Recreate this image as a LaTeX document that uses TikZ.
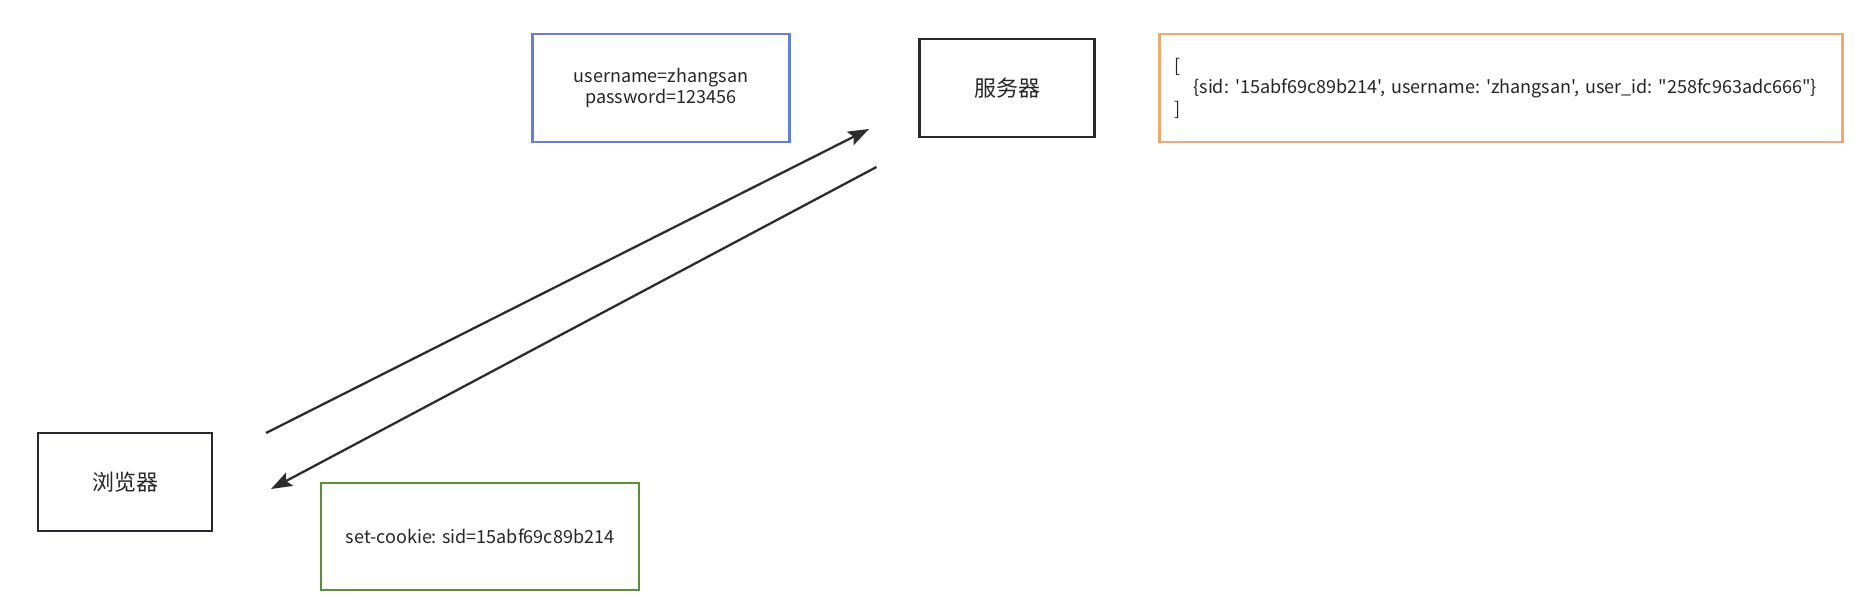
\documentclass[tikz,border=0pt]{standalone}
\usepackage{fontspec}
\newfontfamily\mainf{Noto Sans CJK SC}
\usetikzlibrary{arrows.meta}
\definecolor{darkb}{RGB}{38,42,48}
\definecolor{blueb}{RGB}{98,128,218}
\definecolor{orangeb}{RGB}{240,170,110}
\definecolor{greenb}{RGB}{88,146,56}
\definecolor{arrowc}{RGB}{45,45,45}
\newcommand{\oq}[1]{\kern-3pt#1}
\tikzset{
  box/.style={draw, line width=2.5pt, rectangle, inner sep=0pt, font=\mainf\fontsize{18}{21.5}\selectfont, text=black!85},
  darkbox/.style={box, draw=darkb, minimum width=174pt, minimum height=98pt, font=\mainf\fontsize{22}{26}\selectfont},
  conn/.style={draw=arrowc, line width=2.3pt, -{Stealth[length=21pt,width=15pt,inset=4pt]}}
}
\begin{document}
\begin{tikzpicture}[x=1pt,y=-1pt]
\useasboundingbox (0,0) rectangle (1870,606);
\node[darkbox] (browser) at (125,482) {浏览器};
\node[darkbox, minimum width=175pt] (server) at (1007,88) {服务器};
\node[box, draw=blueb, minimum width=257pt, minimum height=108pt, align=center] (cred) at (661,88) {username=zhangsan\\password=123456};
\node[box, draw=orangeb, minimum width=683pt, minimum height=108pt, text width=653pt, align=left] (store) at (1501,88) {[\\\hspace*{19pt}\{sid: \oq{'}15abf69c89b214', username: \oq{'}zhangsan', user\_id: \oq{"}258fc963adc666"\}\\]};
\node[box, draw=greenb, minimum width=318pt, minimum height=107pt] (cookie) at (480,536.5) {set-cookie: sid=15abf69c89b214};
\coordinate (a1s) at (266,433);
\coordinate (a1e) at (869,129);
\coordinate (a2s) at (876.5,167);
\coordinate (a2e) at (271,489);
\draw[conn] (a1s) -- (a1e);
\draw[conn] (a2s) -- (a2e);
\end{tikzpicture}
\end{document}
